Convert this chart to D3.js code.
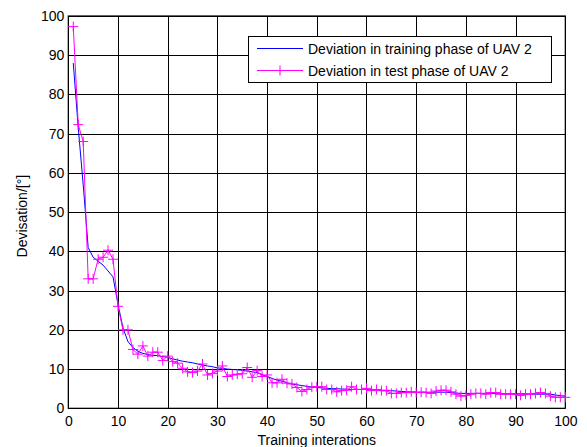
<!DOCTYPE html>
<html>
<head>
<meta charset="utf-8">
<script src="https://cdn.jsdelivr.net/npm/d3@7"></script>
<style>
  html, body { margin: 0; padding: 0; background: #fff; }
  svg { display: block; }
  text { font-family: "Liberation Sans", Arial, sans-serif; fill: #000; }
</style>
</head>
<body>
<svg id="chart" width="587" height="447"></svg>
<script>
// Deviation per training iteration (1..100)
const iterations = d3.range(1, 101);

const trainingDeviation = [
  88.0, 71.5, 57.0, 41.0, 38.5, 37.5, 36.5, 35.0, 33.5, 26.5,
  20.5, 17.0, 15.5, 14.5, 14.0, 13.7, 13.5, 13.4, 13.2, 13.0,
  12.6, 12.3, 12.0, 11.8, 11.6, 11.3, 11.0, 10.8, 10.6, 10.3,
  10.2, 10.0, 9.9, 9.8, 9.7, 9.5, 9.3, 9.1, 8.6, 8.1,
  7.6, 7.2, 6.9, 6.5, 6.2, 6.0, 5.8, 5.6, 5.4, 5.3,
  5.2, 5.1, 5.0, 5.0, 4.9, 4.9, 4.8, 4.8, 4.8, 4.8,
  4.7, 4.7, 4.6, 4.6, 4.5, 4.4, 4.3, 4.2, 4.2, 4.1,
  4.1, 4.1, 4.1, 4.1, 4.1, 4.1, 4.0, 3.9, 3.8, 3.8,
  3.8, 3.8, 3.8, 3.8, 3.8, 3.7, 3.7, 3.7, 3.7, 3.7,
  3.7, 3.7, 3.6, 3.6, 3.6, 3.6, 3.6, 3.4, 3.2, 3.1
];

const testDeviation = [
  97.3, 72.3, 68.0, 33.0, 33.0, 38.0, 38.5, 40.3, 38.0, 26.0,
  20.0, 20.0, 15.0, 13.8, 15.9, 13.3, 14.3, 14.3, 12.2, 13.3,
  11.9, 11.5, 10.2, 9.3, 9.1, 9.5, 11.3, 8.5, 8.9, 9.5,
  10.8, 8.1, 8.5, 8.7, 8.8, 10.4, 7.9, 9.6, 8.1, 8.5,
  6.5, 6.5, 7.4, 6.4, 6.2, 5.3, 4.3, 4.8, 5.4, 5.5,
  5.5, 4.8, 4.8, 4.2, 4.5, 4.6, 5.5, 4.8, 4.8, 5.1,
  4.5, 4.8, 4.5, 4.5, 3.8, 3.8, 4.0, 4.0, 4.2, 4.0,
  4.1, 4.0, 3.8, 4.4, 4.6, 4.6, 4.2, 3.6, 3.1, 3.3,
  3.6, 3.8, 3.8, 3.6, 4.0, 4.0, 3.6, 3.6, 3.6, 3.6,
  3.3, 3.6, 3.6, 3.8, 4.0, 3.8, 3.1, 2.8, 2.8, 2.8
];

const xTicks = [0, 10, 20, 30, 40, 50, 60, 70, 80, 90, 100];
const yTicks = [0, 10, 20, 30, 40, 50, 60, 70, 80, 90, 100];

const seriesNames = [
  "Deviation in training phase of UAV 2",
  "Deviation in test phase of UAV 2"
];
const seriesColors = ["#0000ff", "#ff00ff"];

const xLabel = "Training interations";
const yLabel = "Devisation/[°]";

// Layout
const plotLeft = 68.3, plotRight = 565.3, plotTop = 16, plotBottom = 408.3;

const svg = d3.select("#chart");

const x = d3.scaleLinear().domain([0, 100]).range([plotLeft, plotRight]);
const y = d3.scaleLinear().domain([0, 100]).range([plotBottom, plotTop]);

// Grid
const grid = svg.append("g").attr("stroke", "#000").attr("stroke-width", 1).attr("shape-rendering", "crispEdges");
grid.selectAll("line.gx").data(xTicks).join("line")
  .attr("x1", d => Math.round(x(d)) + 0.5).attr("x2", d => Math.round(x(d)) + 0.5)
  .attr("y1", plotTop).attr("y2", plotBottom);
grid.selectAll("line.gy").data(yTicks).join("line")
  .attr("y1", d => Math.round(y(d)) + 0.5).attr("y2", d => Math.round(y(d)) + 0.5)
  .attr("x1", plotLeft).attr("x2", plotRight);

// Axes (tick labels only; the grid doubles as tick marks)
const xAxis = d3.axisBottom(x).tickValues(xTicks).tickSizeInner(-5).tickSizeOuter(0).tickPadding(10);
const yAxis = d3.axisLeft(y).tickValues(yTicks).tickSizeInner(-5).tickSizeOuter(0).tickPadding(10);

const gx = svg.append("g").attr("transform", `translate(0,${plotBottom})`).call(xAxis);
const gy = svg.append("g").attr("transform", `translate(${plotLeft},0)`).call(yAxis);
[gx, gy].forEach(g => {
  g.select(".domain").remove();
  g.selectAll("line").remove();
  g.selectAll("text").attr("font-size", 14).attr("font-family", "Liberation Sans, Arial, sans-serif").attr("fill", "#000");
});
gx.selectAll("text").attr("dy", "0.71em").attr("y", 8);
gy.selectAll("text").attr("x", -4);

// Plot frame
svg.append("rect")
  .attr("x", plotLeft).attr("y", plotTop)
  .attr("width", plotRight - plotLeft).attr("height", plotBottom - plotTop)
  .attr("fill", "none").attr("stroke", "#000").attr("stroke-width", 1.2);

// Series
const line = d3.line().x((d, i) => x(iterations[i])).y(d => y(d));

svg.append("path").datum(trainingDeviation)
  .attr("d", line).attr("fill", "none")
  .attr("stroke", seriesColors[0]).attr("stroke-width", 1);

svg.append("path").datum(testDeviation)
  .attr("d", line).attr("fill", "none")
  .attr("stroke", seriesColors[1]).attr("stroke-width", 1);

const plus = (g, cx, cy, r) => {
  g.append("line").attr("x1", cx - r).attr("x2", cx + r).attr("y1", cy).attr("y2", cy);
  g.append("line").attr("x1", cx).attr("x2", cx).attr("y1", cy - r).attr("y2", cy + r);
};

const markers = svg.append("g").attr("stroke", seriesColors[1]).attr("stroke-width", 1);
testDeviation.forEach((v, i) => plus(markers, x(iterations[i]), y(v), 5));

// Axis titles
svg.append("text")
  .attr("x", (plotLeft + plotRight) / 2).attr("y", 445)
  .attr("text-anchor", "middle").attr("font-size", 14)
  .text(xLabel);

svg.append("text")
  .attr("transform", `translate(27,${(plotTop + plotBottom) / 2 + 4}) rotate(-90)`)
  .attr("text-anchor", "middle").attr("font-size", 14)
  .text(yLabel);

// Legend
const legend = svg.append("g");
legend.append("rect")
  .attr("x", 248.5).attr("y", 36.5).attr("width", 303).attr("height", 46)
  .attr("fill", "#fff").attr("stroke", "#000").attr("stroke-width", 1);

const rows = [48.5, 70.5];
rows.forEach((ry, i) => {
  legend.append("line")
    .attr("x1", 257).attr("x2", 303).attr("y1", ry).attr("y2", ry)
    .attr("stroke", seriesColors[i]).attr("stroke-width", 1);
  legend.append("text")
    .attr("x", 308).attr("y", ry + 5)
    .attr("font-size", 14)
    .text(seriesNames[i]);
});
const legendMarker = legend.append("g").attr("stroke", seriesColors[1]).attr("stroke-width", 1);
plus(legendMarker, 280, rows[1], 5);
</script>
</body>
</html>
